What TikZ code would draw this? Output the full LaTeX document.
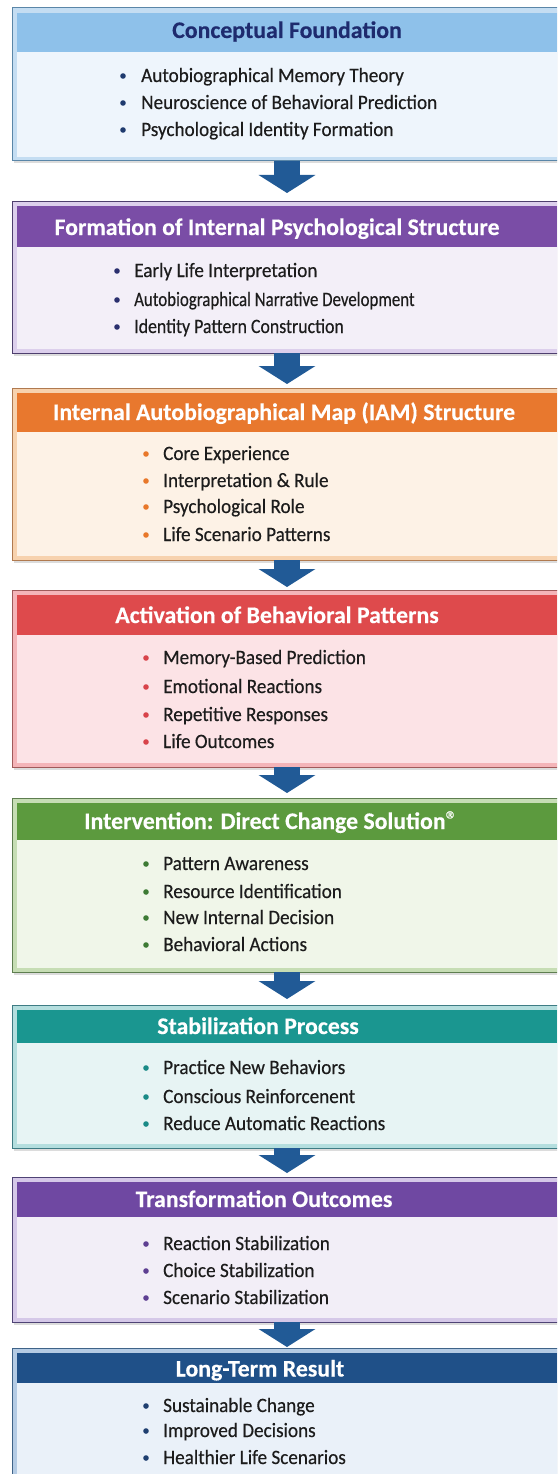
\documentclass[tikz,border=0pt]{standalone}
\usepackage{fontspec}
\setmainfont{Carlito}
\newfontfamily\itemfont[FakeStretch=0.94,FakeBold=0.4]{Carlito}
\newfontfamily\headfont[FakeBold=0.3]{Carlito}
\usepackage{graphicx}
\usetikzlibrary{arrows.meta}
% colours: border, frame, head, body, bullet
\definecolor{Aborder}{HTML}{5A86A8}\definecolor{Aframe}{HTML}{C4DDF2}\definecolor{Ahead}{HTML}{8EC1EA}\definecolor{Abody}{HTML}{EEF5FC}\definecolor{Abul}{HTML}{1E3A6E}
\definecolor{Bborder}{HTML}{4E3F6E}\definecolor{Bframe}{HTML}{DCCFEC}\definecolor{Bhead}{HTML}{7A4DA6}\definecolor{Bbody}{HTML}{F3EFF8}\definecolor{Bbul}{HTML}{2A2F6E}
\definecolor{Cborder}{HTML}{B07A50}\definecolor{Cframe}{HTML}{F7D2AE}\definecolor{Chead}{HTML}{E8782E}\definecolor{Cbody}{HTML}{FDF2E6}\definecolor{Cbul}{HTML}{E8782A}
\definecolor{Dborder}{HTML}{A05A5A}\definecolor{Dframe}{HTML}{F4B4B8}\definecolor{Dhead}{HTML}{DE4A4C}\definecolor{Dbody}{HTML}{FCE3E6}\definecolor{Dbul}{HTML}{D8434A}
\definecolor{Eborder}{HTML}{5E7E50}\definecolor{Eframe}{HTML}{C6DDB4}\definecolor{Ehead}{HTML}{5C9A3E}\definecolor{Ebody}{HTML}{F0F6E9}\definecolor{Ebul}{HTML}{3D7A34}
\definecolor{Fborder}{HTML}{3E7C84}\definecolor{Fframe}{HTML}{B4DEDE}\definecolor{Fhead}{HTML}{1A9690}\definecolor{Fbody}{HTML}{E7F4F4}\definecolor{Fbul}{HTML}{1A8A86}
\definecolor{Gborder}{HTML}{4F4375}\definecolor{Gframe}{HTML}{D5C8E8}\definecolor{Ghead}{HTML}{6F48A2}\definecolor{Gbody}{HTML}{F2EEF7}\definecolor{Gbul}{HTML}{5E3F92}
\definecolor{Hborder}{HTML}{3F6388}\definecolor{Hframe}{HTML}{B4CBE4}\definecolor{Hhead}{HTML}{1F5088}\definecolor{Hbody}{HTML}{EAF1F9}\definecolor{Hbul}{HTML}{1F3F70}
\definecolor{navytxt}{HTML}{1E2B6E}
\definecolor{itemcol}{HTML}{1C1C1C}
\definecolor{arrowblue}{HTML}{215A96}
\newcommand{\mkbox}[5]{%
  \fill[black!30,opacity=0.45] (14,#2+2) rectangle (566,#4+2.5);
  \node[draw=#5border, fill=#5frame, line width=1pt, anchor=north west,
        minimum width=550, minimum height=#4-#2, inner sep=0pt, outer sep=0pt] (#1) at (12,#2) {};
  \fill[#5head] (17,#2+5) rectangle (557,#3);
  \fill[#5body] (17,#3) rectangle (557,#4-4);
}
\newcommand{\bul}[6]{%
  \node[dotmark, fill=#5] (#1d) at (#2,#4) {};
  \node[itemtxt, anchor=base west] (#1) at (#3,#4+6) {#6};
}
\begin{document}
\begin{tikzpicture}[x=1pt,y=-1pt,
  dotmark/.style={circle, inner sep=0pt, minimum size=5.6pt, draw=none},
  itemtxt/.style={inner sep=0pt, text=itemcol, font=\itemfont\fontsize{20.4}{22}\selectfont},
  headtxt/.style={inner sep=0pt, text=white, font=\headfont\bfseries\fontsize{23.8}{26}\selectfont},
  flow/.style={draw=arrowblue, line width=26pt, -{Triangle[length=18pt,width=56pt]}}]
\useasboundingbox (0,0) rectangle (557,1474);
\clip (0,0) rectangle (557,1474);
\fill[white] (0,0) rectangle (557,1474);

\mkbox{b1}{8}{52}{161}{A}
\mkbox{b2}{201}{247}{353}{B}
\mkbox{b3}{388}{432}{560}{C}
\mkbox{b4}{590}{635}{767}{D}
\mkbox{b5}{798}{840}{972}{E}
\mkbox{b6}{1005}{1043}{1148}{F}
\mkbox{b7}{1177}{1217}{1322}{G}
\mkbox{b8}{1348}{1383}{1500}{H}

% arrows
\draw[flow, shorten >=8pt] (b1.south) -- (b2.north);
\draw[flow, shorten >=4pt] (b2.south) -- (b3.north);
\draw[flow, shorten >=3pt] (b3.south) -- (b4.north);
\draw[flow, shorten >=5pt] (b4.south) -- (b5.north);
\draw[flow, shorten >=6pt] (b5.south) -- (b6.north);
\draw[flow, shorten >=4pt] (b6.south) -- (b7.north);
\draw[flow, shorten >=1pt] (b7.south) -- (b8.north);

% headers
\node[headtxt, text=navytxt, anchor=base] (h1) at (287,38) {Conceptual Foundation};
\node[headtxt, anchor=base] (h2) at (277,235) {Formation of Internal Psychological Structure};
\node[headtxt, anchor=base] (h3) at (284,420) {Internal Autobiographical Map (IAM) Structure};
\node[headtxt, anchor=base] (h4) at (277,623) {Activation of Behavioral Patterns};
\node[headtxt, anchor=base] (h5) at (271,829) {Intervention: Direct Change Solution\raisebox{0.05em}{\fontsize{24}{24}\selectfont\mdseries ®}};
\node[headtxt, anchor=base] (h6) at (258,1034) {Stabilization Process};
\node[headtxt, anchor=base] (h7) at (264,1207) {Transformation Outcomes};
\node[headtxt, anchor=base] (h8) at (260,1376.5) {Long-Term Result};

% items
\bul{i1a}{123}{141}{76}{Abul}{Autobiographical Memory Theory}
\bul{i1b}{123}{141}{103}{Abul}{Neuroscience of Behavioral Prediction}
\bul{i1c}{123}{141}{130}{Abul}{Psychological Identity Formation}

\bul{i2a}{117}{134}{271}{Bbul}{Early Life Interpretation}
\bul{i2b}{117}{134}{300}{Bbul}{\scalebox{0.88}[1]{Autobiographical Narrative Development}}
\bul{i2c}{117}{134}{327}{Bbul}{\scalebox{0.93}[1]{Identity Pattern Construction}}

\bul{i3a}{146}{163}{454}{Cbul}{Core Experience}
\bul{i3b}{146}{163}{481}{Cbul}{Interpretation \& Rule}
\bul{i3c}{146}{163}{507}{Cbul}{Psychological Role}
\bul{i3d}{146}{163}{535}{Cbul}{Life Scenario Patterns}

\bul{i4a}{146}{163}{658}{Dbul}{Memory-Based Prediction}
\bul{i4b}{146}{163}{687}{Dbul}{Emotional Reactions}
\bul{i4c}{146}{163}{715}{Dbul}{Repetitive Responses}
\bul{i4d}{146}{163}{742}{Dbul}{Life Outcomes}

\bul{i5a}{146}{163}{864}{Ebul}{Pattern Awareness}
\bul{i5b}{146}{163}{892}{Ebul}{Resource Identification}
\bul{i5c}{146}{163}{918}{Ebul}{New Internal Decision}
\bul{i5d}{146}{163}{945}{Ebul}{Behavioral Actions}

\bul{i6a}{146}{163}{1068}{Fbul}{Practice New Behaviors}
\bul{i6b}{146}{163}{1097}{Fbul}{Conscious Reinforcenent}
\bul{i6c}{146}{163}{1124}{Fbul}{Reduce Automatic Reactions}

\bul{i7a}{146}{163}{1244}{Gbul}{Reaction Stabilization}
\bul{i7b}{146}{163}{1271}{Gbul}{Choice Stabilization}
\bul{i7c}{146}{163}{1298}{Gbul}{Scenario Stabilization}

\bul{i8a}{146}{163}{1406}{Hbul}{Sustainable Change}
\bul{i8b}{146}{163}{1431}{Hbul}{Improved Decisions}
\bul{i8c}{146}{163}{1458}{Hbul}{Healthier Life Scenarios}
\end{tikzpicture}
\end{document}
